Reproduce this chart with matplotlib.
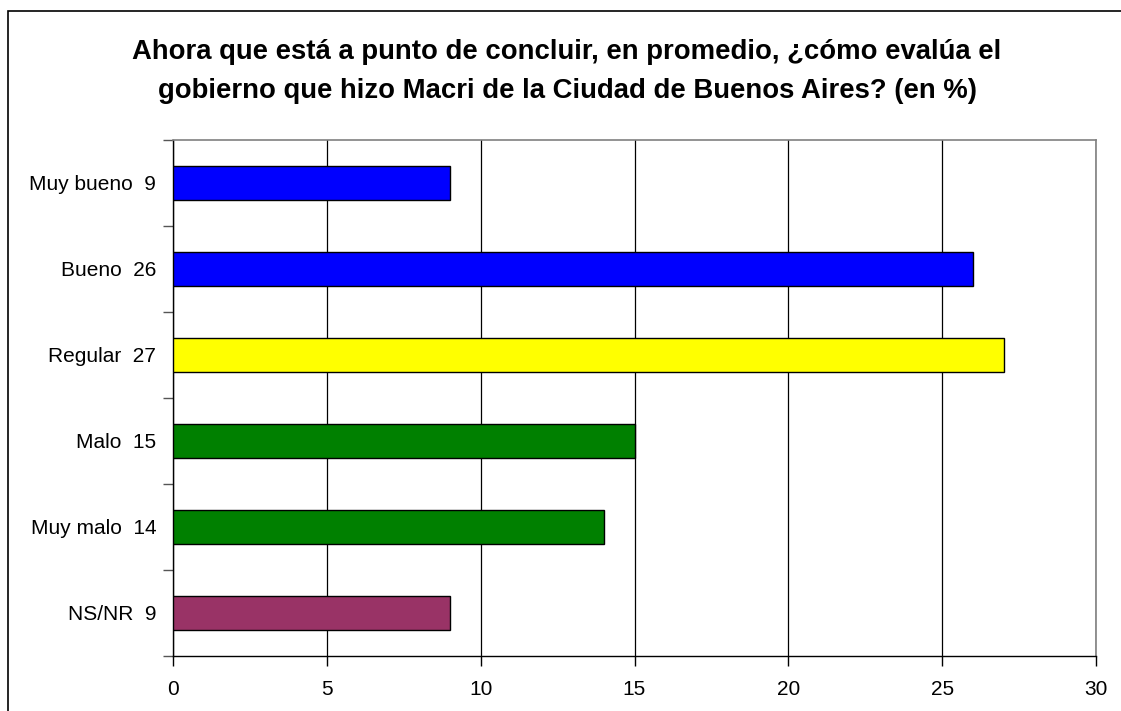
import matplotlib.pyplot as plt
from matplotlib.patches import Rectangle

# ----------------- Data -----------------
categories = ["Muy bueno", "Bueno", "Regular", "Malo", "Muy malo", "NS/NR"]
values = [9, 26, 27, 15, 14, 9]
colors = ["#0000FF", "#0000FF", "#FFFF00", "#008000", "#008000", "#993366"]
x_ticks = [0, 5, 10, 15, 20, 25, 30]

title_lines = ["Ahora que está a punto de concluir, en promedio, ¿cómo evalúa el",
               "gobierno que hizo Macri de la Ciudad de Buenos Aires? (en %)"]

plt.rcParams["font.family"] = ["Liberation Sans", "DejaVu Sans"]

W, H = 1121, 711
fig = plt.figure(figsize=(W / 100, H / 100), dpi=100)
ax = fig.add_axes([173 / W, 1 - 656 / H, (1096 - 173) / W, (656 - 140) / H])

# outer frame
fig.patches.append(Rectangle((8 / W, -0.1), 1.2, 1 - 11 / H + 0.1,
                             transform=fig.transFigure, fill=False,
                             edgecolor="black", linewidth=1.2, clip_on=False))

pos = list(range(len(categories)))
ax.barh(pos, values, height=0.4, color=colors, edgecolor="black", linewidth=1, zorder=3)

ax.set_ylim(len(categories) - 0.5, -0.5)
ax.set_xlim(0, 30)
ax.set_xticks(x_ticks)
ax.set_xticklabels([str(t) for t in x_ticks], fontsize=15)
ax.tick_params(axis="x", length=7, width=1, pad=10, color="black")

labels = [f"{c}  {v}" for c, v in zip(categories, values)]
ax.set_yticks(pos)
ax.set_yticklabels(labels, fontsize=15)
ax.tick_params(axis="y", which="major", length=0, pad=12)
ax.set_yticks([p + 0.5 for p in pos[:-1]] + [-0.5, len(categories) - 0.5], minor=True)
ax.tick_params(axis="y", which="minor", length=7, width=1, color="#555555")

ax.grid(axis="x", color="black", linewidth=0.9, zorder=0)
for s in ["left", "bottom"]:
    ax.spines[s].set_color("black")
    ax.spines[s].set_linewidth(1)
for s in ["top", "right"]:
    ax.spines[s].set_color("#808080")
    ax.spines[s].set_linewidth(1.2)

for line, base in zip(title_lines, [59, 98]):
    fig.text(567 / W, 1 - base / H, line, ha="center", va="baseline",
             fontsize=19.8, fontweight="bold")

fig.savefig("out.png", dpi=100)
